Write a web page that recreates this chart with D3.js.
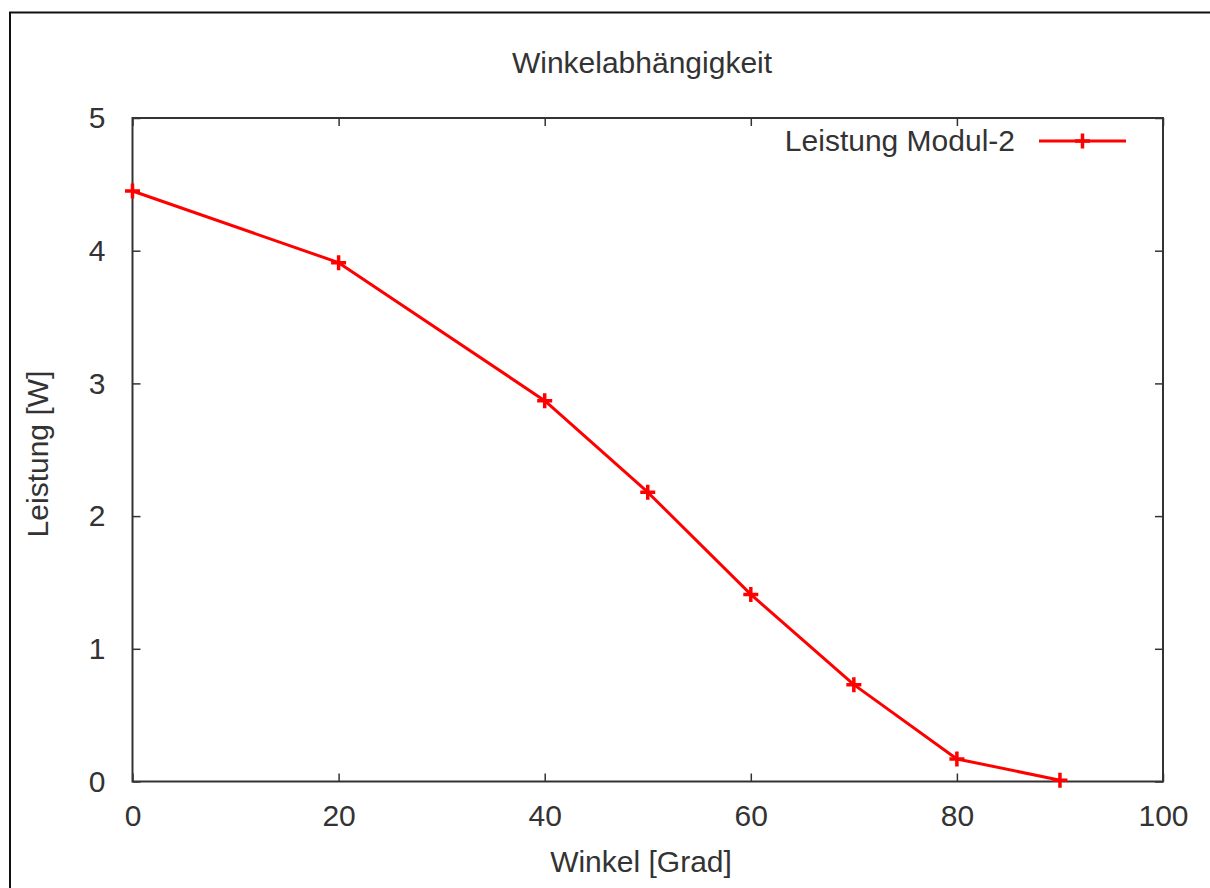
<!DOCTYPE html>
<html>
<head>
<meta charset="utf-8">
<script src="https://cdn.jsdelivr.net/npm/d3@7"></script>
<style>
  html, body { margin: 0; padding: 0; background: #fff; }
  text { font-family: "Liberation Sans", Arial, sans-serif; fill: #333; }
</style>
</head>
<body>
<svg id="chart" width="1210" height="888"></svg>
<script>
// data
const angles = [0, 20, 40, 50, 60, 70, 80, 90];
const power = [4.45, 3.91, 2.87, 2.18, 1.41, 0.73, 0.17, 0.01];
const xTicks = [0, 20, 40, 60, 80, 100];
const yTicks = [0, 1, 2, 3, 4, 5];
const title = 'Winkelabhängigkeit';
const xLabel = 'Winkel [Grad]';
const yLabel = 'Leistung [W]';
const seriesName = 'Leistung Modul-2';

const plotLeft = 132.5, plotRight = 1163, plotTop = 118, plotBottom = 781.5;
const fontSize = 30;
const red = '#ff0000';

const svg = d3.select('#chart');

svg.append('rect')
    .attr('width', 1210).attr('height', 888).attr('fill', '#fff');

// outer frame, only left and top edges visible
svg.append('rect')
    .attr('x', 10).attr('y', 12.5)
    .attr('width', 1400).attr('height', 1000)
    .attr('fill', 'none').attr('stroke', '#111').attr('stroke-width', 2);

const x = d3.scaleLinear().domain([0, 100]).range([plotLeft, plotRight]);
const y = d3.scaleLinear().domain([0, 5]).range([plotBottom, plotTop]);

function styleAxis(g) {
    g.select('.domain').remove();
    g.selectAll('.tick line').attr('stroke', '#333').attr('stroke-width', 1.5);
    g.selectAll('.tick text')
        .attr('font-size', fontSize)
        .attr('font-family', '"Liberation Sans", Arial, sans-serif')
        .attr('fill', '#333');
}

svg.append('g')
    .attr('transform', `translate(0,${plotBottom})`)
    .call(d3.axisBottom(x).tickValues(xTicks).tickSize(-8).tickPadding(23).tickFormat(d3.format('d')))
    .call(styleAxis);

svg.append('g')
    .attr('transform', `translate(0,${plotTop})`)
    .call(d3.axisTop(x).tickValues(xTicks).tickSize(-8).tickFormat(''))
    .call(styleAxis);

svg.append('g')
    .attr('transform', `translate(${plotLeft},0)`)
    .call(d3.axisLeft(y).tickValues(yTicks).tickSize(-8).tickPadding(27).tickFormat(d3.format('d')))
    .call(styleAxis);

svg.append('g')
    .attr('transform', `translate(${plotRight},0)`)
    .call(d3.axisRight(y).tickValues(yTicks).tickSize(-8).tickFormat(''))
    .call(styleAxis);

// plot frame
svg.append('rect')
    .attr('x', plotLeft).attr('y', plotTop)
    .attr('width', plotRight - plotLeft).attr('height', plotBottom - plotTop)
    .attr('fill', 'none').attr('stroke', '#333').attr('stroke-width', 2);

// labels
svg.append('text')
    .attr('x', 642).attr('y', 73)
    .attr('text-anchor', 'middle').attr('font-size', fontSize)
    .text(title);

svg.append('text')
    .attr('x', 641).attr('y', 872)
    .attr('text-anchor', 'middle').attr('font-size', fontSize)
    .text(xLabel);

svg.append('text')
    .attr('transform', 'translate(48,454) rotate(-90)')
    .attr('text-anchor', 'middle').attr('font-size', fontSize)
    .text(yLabel);

// series
const points = angles.map((a, i) => ({ a: a, p: power[i] }));
const plus = 'M-7.5,0H7.5M0,-7.5V7.5';

svg.append('path')
    .datum(points)
    .attr('fill', 'none')
    .attr('stroke', red)
    .attr('stroke-width', 3)
    .attr('stroke-linejoin', 'round')
    .attr('d', d3.line().x(d => x(d.a)).y(d => y(d.p)));

svg.selectAll('.marker')
    .data(points)
    .enter()
    .append('path')
    .attr('class', 'marker')
    .attr('transform', d => `translate(${x(d.a)},${y(d.p)})`)
    .attr('d', plus)
    .attr('stroke', red)
    .attr('stroke-width', 3.5)
    .attr('fill', 'none');

// legend
const legend = svg.append('g');
legend.append('text')
    .attr('x', 1015).attr('y', 151)
    .attr('text-anchor', 'end').attr('font-size', fontSize)
    .text(seriesName);
legend.append('line')
    .attr('x1', 1039).attr('x2', 1126)
    .attr('y1', 141).attr('y2', 141)
    .attr('stroke', red).attr('stroke-width', 3);
legend.append('path')
    .attr('transform', 'translate(1082.5,141)')
    .attr('d', plus)
    .attr('stroke', red).attr('stroke-width', 3.5);
</script>
</body>
</html>
